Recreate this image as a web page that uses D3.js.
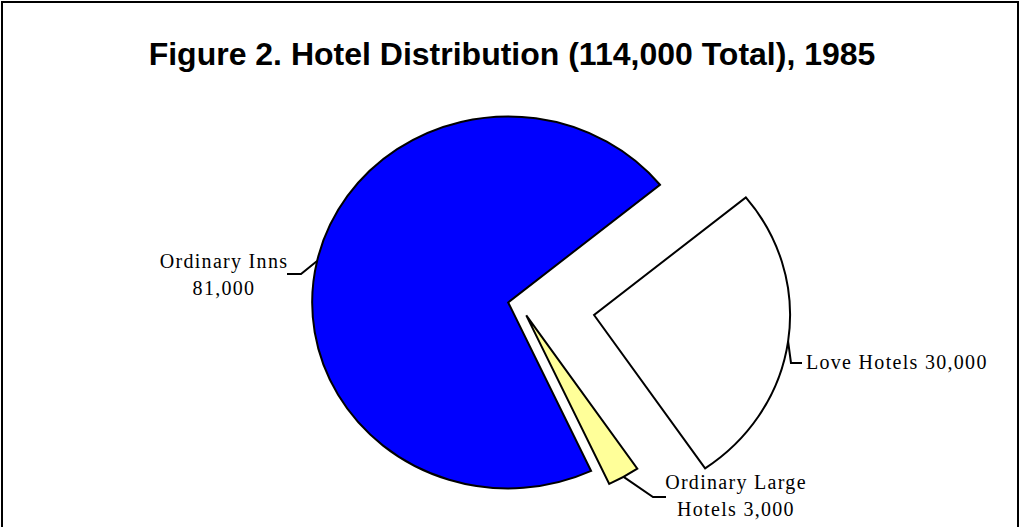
<!DOCTYPE html>
<html>
<head>
<meta charset="utf-8">
<script src="https://cdn.jsdelivr.net/npm/d3@7"></script>
<style>
  body { margin: 0; background: #fff; }
  text { fill: #000; }
</style>
</head>
<body>
<script>
// data
var categories = ["Love Hotels", "Ordinary Large Hotels", "Ordinary Inns"];
var values = [30000, 3000, 81000];
var labelLines = [["Love Hotels 30,000"], ["Ordinary Large", "Hotels 3,000"], ["Ordinary Inns", "81,000"]];
var colors = ["#ffffff", "#ffff99", "#0000ff"];

var width = 1020, height = 527;
var cx = 520, cy = 305;           // pie centre
var ry = 186, kx = 196 / 186;     // pie is a bit wider than tall
var explode = [71, 12, 11.5];

// label / leader layout: elbow point, end point, text anchor spot
var leaders = [
  {elbow: [791, 363], end: [802, 363], tx: 806, ty: 369, anchor: "start"},
  {elbow: [653, 497], end: [666, 497], tx: 736, ty: 489, anchor: "middle"},
  {elbow: [301, 274], end: [287, 274], tx: 224, ty: 268, anchor: "middle"}
];

var svg = d3.select("body").append("svg")
    .attr("width", width)
    .attr("height", height);

svg.append("rect")
    .attr("x", 2).attr("y", 2)
    .attr("width", width - 4).attr("height", height + 10)
    .attr("fill", "none")
    .attr("stroke", "#000")
    .attr("stroke-width", 2);

svg.append("text")
    .attr("x", 512).attr("y", 65)
    .attr("text-anchor", "middle")
    .style("font-family", "'Liberation Sans', Arial, sans-serif")
    .style("font-weight", "bold")
    .style("font-size", "32px")
    .text("Figure 2. Hotel Distribution (114,000 Total), 1985");

var pie = d3.pie().sort(null)
    .startAngle(50.75 * Math.PI / 180)
    .endAngle((50.75 + 360) * Math.PI / 180);

var arcs = pie(values);
var arc = d3.arc().innerRadius(0).outerRadius(ry);

arcs.forEach(function(d, i) {
  var mid = (d.startAngle + d.endAngle) / 2;
  d.ox = cx + kx * explode[i] * Math.sin(mid);
  d.oy = cy - explode[i] * Math.cos(mid);
  d.mid = mid;
});

svg.selectAll("path.slice")
    .data(arcs)
  .enter().append("path")
    .attr("class", "slice")
    .attr("transform", function(d) { return "translate(" + d.ox + "," + d.oy + ") scale(" + kx + ",1)"; })
    .attr("d", arc)
    .attr("fill", function(d, i) { return colors[i]; })
    .attr("stroke", "#000")
    .attr("stroke-width", 2)
    .attr("stroke-linejoin", "miter")
    .attr("vector-effect", "non-scaling-stroke");

// leader lines
var line = d3.line();
svg.selectAll("path.leader")
    .data(arcs)
  .enter().append("path")
    .attr("class", "leader")
    .attr("fill", "none")
    .attr("stroke", "#000")
    .attr("stroke-width", 2)
    .attr("d", function(d, i) {
      var sx = d.ox + kx * ry * Math.sin(d.mid);
      var sy = d.oy - ry * Math.cos(d.mid);
      return line([[sx, sy], leaders[i].elbow, leaders[i].end]);
    });

svg.selectAll("text.label")
    .data(arcs)
  .enter().append("text")
    .attr("class", "label")
    .attr("text-anchor", function(d, i) { return leaders[i].anchor; })
    .style("font-family", "'Liberation Serif', 'Times New Roman', serif")
    .style("font-size", "20px")
    .style("letter-spacing", "1.3px")
    .each(function(d, i) {
      var t = d3.select(this);
      labelLines[i].forEach(function(s, j) {
        t.append("tspan")
          .attr("x", leaders[i].tx)
          .attr("y", leaders[i].ty + j * 27)
          .text(s);
      });
    });
</script>
</body>
</html>
